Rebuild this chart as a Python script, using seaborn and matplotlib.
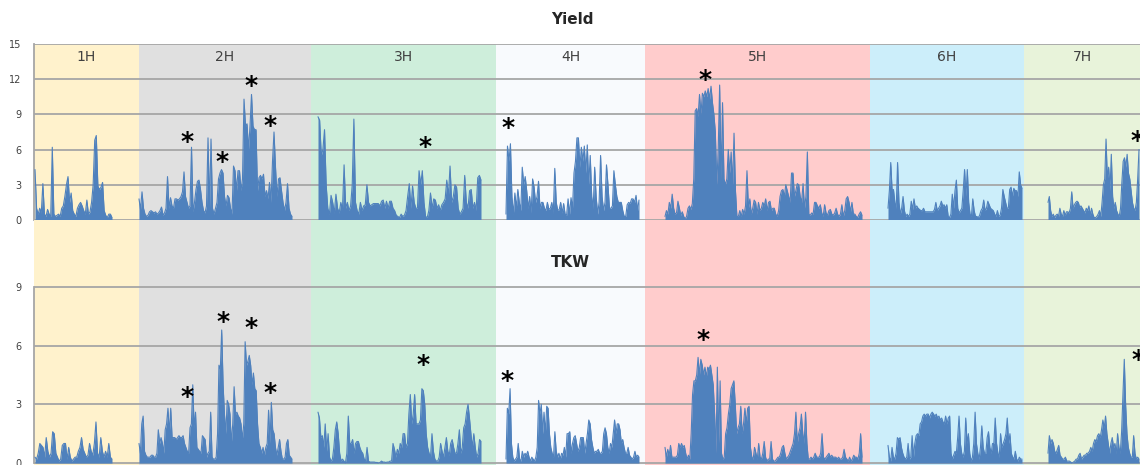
import numpy as np
import pandas as pd
import matplotlib
matplotlib.use("Agg")
import matplotlib.pyplot as plt
import seaborn as sns

# chromosomes, their band widths and the span covered by markers
chroms = ['1H', '2H', '3H', '4H', '5H', '6H', '7H']
chrom_width = [105, 172, 185, 149, 225, 154, 116]
marker_start = [1, 0, 7, 10, 20, 18, 24]
marker_end = [78, 153, 170, 143, 217, 152, 115]
band_colors = ['#fff2cc', '#e0e0e0', '#ceeedb', '#f8fafd', '#ffcccc', '#cceefa', '#e8f3da']

# -log10(p) profiles, Yield
yield_1h = [4.3, 1.0, 0.5, 1.0, 0.6, 3.1, 0.5, 0.3, 0.9, 0.5, 0.3, 6.2, 0.5, 0.3, 0.4, 0.5, 0.3,
            1.0, 1.2, 2.0, 3.0, 3.7, 1.5, 2.3, 0.8, 0.5, 0.3, 1.0, 1.3, 1.5, 1.2, 0.8, 0.5, 1.7,
            0.5, 0.7, 1.5, 3.0, 6.8, 7.2, 2.9, 2.6, 2.8, 3.2, 0.8, 0.4, 0.2, 0.5, 0.5, 0.2]
yield_2h = [1.8, 0.9, 2.4, 1.0, 0.5, 0.3, 0.4, 0.7, 0.8, 0.7, 0.6, 0.7, 0.5, 0.6, 0.8, 1.1, 0.4,
            0.6, 1.0, 3.7, 1.0, 1.9, 1.2, 1.0, 1.8, 1.8, 1.7, 1.8, 2.0, 2.4, 4.1, 2.0, 1.5, 1.0,
            1.2, 6.2, 0.7, 1.5, 2.6, 3.3, 3.4, 2.6, 1.5, 0.8, 0.6, 1.2, 7.0, 1.0, 6.9, 1.0, 0.5,
            1.0, 1.5, 3.5, 4.0,
            4.3, 4.0, 2.0, 1.2, 2.1, 1.9, 1.0, 0.5, 4.6, 4.2, 2.5, 4.2, 4.2, 2.5, 3.5, 10.3, 8.0,
            8.2, 6.0, 8.0, 10.7, 8.0, 7.7, 7.7, 2.5, 3.6, 3.8, 3.5, 3.9, 2.0, 2.5, 1.8, 3.2, 1.5,
            5.0, 7.5, 4.5, 2.0, 3.5, 3.6, 2.5, 1.5, 0.8, 1.5, 3.1, 1.0, 0.5, 0.3]
yield_3h = [8.8, 8.5, 5.5, 6.0, 7.7, 3.0, 1.0, 0.5, 2.1, 1.5, 0.6, 2.2, 1.0, 0.6, 1.5, 0.9, 4.7,
            1.0, 1.5, 0.8, 1.2, 3.0, 8.6, 1.5, 0.8, 0.5, 1.5, 0.8, 1.2, 1.3, 3.0, 1.5, 1.2, 1.3,
            1.4, 1.4, 1.4, 1.4, 1.2, 1.6, 1.7, 1.0, 1.6, 1.0, 1.6, 1.6, 1.0, 0.8, 0.4, 0.3, 0.2,
            0.5,
            0.3, 0.4, 0.8, 2.0, 3.1, 1.0, 2.9, 1.5, 1.0, 1.0, 4.2, 3.0, 4.2, 1.5, 0.3, 0.2, 0.8,
            2.3, 1.0, 1.8, 1.7, 1.0, 1.3, 0.8, 1.3, 1.5, 1.8, 3.4, 2.0, 4.6, 1.5, 2.0, 3.0, 2.8,
            1.0, 0.5, 0.7, 1.0, 3.8, 1.5, 1.0, 2.5, 2.6, 1.0, 1.5, 0.8, 3.6, 3.8, 3.4]
yield_4h = [0.5, 6.3, 5.0, 6.5, 2.0, 0.5, 2.3, 1.0, 2.6, 1.5, 0.8, 4.5, 3.0, 3.7, 2.5, 1.0, 2.0,
            0.6, 3.5, 2.8, 1.5, 2.0, 3.3, 1.0, 1.5, 1.5, 1.0, 0.8, 1.5, 0.9, 1.0, 1.5, 0.6, 4.4,
            1.5, 0.8, 0.9, 1.5, 0.6, 1.4, 0.5, 0.4, 1.8, 0.5, 1.9, 1.0, 4.0, 5.0, 7.0, 7.0, 4.5,
            6.2, 5.0, 6.3, 4.0, 6.4, 3.0, 5.5,
            2.0, 1.0, 4.5, 2.0, 0.5, 1.5, 5.5, 2.0, 0.8, 1.5, 4.7, 3.0, 1.0, 1.0, 1.2, 4.2, 3.0,
            2.0, 1.5, 1.5, 1.5, 0.8, 0.3, 0.3, 1.3, 1.5, 1.4, 1.8, 1.8, 1.5, 2.1, 0.8, 1.7]
yield_5h = [0.3, 0.8, 0.5, 1.5, 1.0, 2.2, 1.0, 0.5, 0.6, 1.6, 1.0, 0.4, 0.7, 0.3, 0.1, 0.3, 1.0,
            1.2, 0.9, 1.4, 3.5, 9.3, 9.5, 8.8, 10.7, 9.0, 10.8, 10.5, 11.0, 10.5, 11.2, 10.3,
            11.4, 10.0, 9.0, 7.5, 3.0, 6.0, 11.5, 3.5, 10.0, 3.5, 3.0, 3.5, 6.0, 4.0, 5.8, 3.0,
            7.4, 2.5, 0.3, 0.3, 0.8, 0.3, 0.9, 0.5, 1.2, 4.2, 1.0, 1.8, 0.5, 1.0, 1.7, 1.5, 0.5,
            1.5, 0.8, 1.0, 1.5, 1.2, 1.8, 0.8, 1.5, 1.6, 0.8, 1.0, 1.0,
            0.5, 0.3, 0.8, 2.0, 2.5, 2.6, 2.0, 3.0, 2.5, 2.0, 1.5, 4.0, 4.0, 2.0, 2.5, 3.1, 3.0,
            2.0, 1.5, 3.1, 1.0, 2.0, 5.8, 0.5, 0.4, 0.6, 0.5, 1.5, 1.5, 1.2, 1.0, 1.3, 0.6, 0.3,
            1.3, 0.6, 0.4, 0.8, 0.9, 0.5, 0.4, 0.6, 1.0, 0.5, 0.3, 0.5, 1.3, 0.3, 0.8, 1.8, 2.0,
            1.5, 0.7, 1.5, 0.5, 0.5, 0.3, 0.2, 0.5, 0.7, 0.4]
yield_6h = [1.0, 2.5, 4.9, 2.5, 2.6, 1.5, 1.0, 4.9, 1.5, 0.5, 1.0, 2.0, 0.8, 0.3, 0.5, 0.3, 0.5,
            1.6, 0.9, 1.8, 1.0, 1.2, 1.0, 0.9, 0.8, 0.8, 1.0, 0.7, 0.7, 0.7, 0.7, 0.7, 0.7, 0.7,
            0.9, 1.5, 0.8, 1.0, 1.2, 1.6, 1.2, 1.3, 1.0, 1.3, 0.3, 0.2, 0.5, 2.2, 1.0, 2.5, 3.4,
            1.0, 0.6, 0.8, 1.0, 2.5, 4.3, 2.0, 4.3, 1.5, 0.5, 0.3, 1.8, 0.8, 0.3, 0.3, 0.2, 0.4,
            0.8, 1.0, 1.7, 0.8, 1.0, 1.6, 1.3, 1.0, 0.9, 0.8, 0.5, 0.3, 0.8, 0.3, 0.4, 1.0, 2.6,
            2.0, 1.5, 1.0, 1.0, 2.6, 2.8, 2.0, 2.7, 2.5, 2.5, 2.0, 4.1, 3.0, 2.7]
yield_7h = [1.5, 2.0, 0.8, 0.3, 0.5, 0.2, 0.4, 0.5, 0.3, 1.0, 0.5, 0.3, 0.8, 0.4, 0.7, 0.7, 0.6,
            1.0, 2.4, 1.0, 1.3, 1.5, 1.6, 1.5, 1.1, 1.2, 1.0, 0.8, 0.6, 1.0, 0.8, 1.2, 0.4, 1.0,
            0.5, 0.2, 0.2, 0.3, 0.5, 0.8, 0.3, 1.5, 3.0, 3.5, 6.9, 3.5, 4.5, 2.5, 5.6, 2.0, 1.0,
            1.5, 0.8, 0.5, 0.3, 1.0, 3.2, 5.0, 5.3, 4.5, 5.6, 4.0, 3.5, 2.5, 1.5, 1.0, 0.8, 1.5,
            3.5, 6.0]

# -log10(p) profiles, TKW
tkw_1h = [0.3, 0.2, 0.5, 1.0, 0.9, 0.8, 0.3, 1.3, 0.6, 0.3, 0.5, 1.6, 1.5, 0.5, 0.3, 0.1, 0.2,
          0.9, 1.0, 1.0, 0.2, 0.8, 0.3, 0.1, 0.2, 0.3, 0.3, 0.6, 0.8, 1.3, 0.7, 0.5, 0.3, 0.4,
          1.0, 0.6, 0.4, 1.0, 2.1, 0.5, 0.3, 1.3, 0.6, 0.3, 0.6, 0.3, 1.0, 0.3, 0.2]
tkw_2h = [1.0, 0.5, 2.0, 2.4, 0.6, 0.4, 0.3, 0.3, 0.3, 0.4, 0.4, 0.3, 0.3, 0.5, 1.7, 1.0, 1.3,
          1.0, 0.5, 1.7, 2.0, 2.8, 1.5, 2.8, 1.3, 1.3, 1.3, 1.2, 1.3, 1.4, 1.3, 1.3, 1.4, 1.0,
          0.8, 0.6, 0.5, 1.8, 2.0, 4.0, 1.8, 2.6, 0.8, 0.7, 0.6, 0.5, 1.4, 1.3, 1.2, 0.3, 0.5,
          0.6, 2.6, 0.3, 0.2, 0.2, 0.3, 1.5, 5.0, 4.8, 6.8, 4.0, 2.5, 1.5, 3.2, 3.0, 2.5, 1.0,
          2.0, 3.9, 2.5, 2.6, 2.4, 2.3, 2.0, 1.2, 2.0, 6.2, 5.0, 5.2, 5.5, 5.0, 4.0, 4.6, 3.8,
          3.7, 2.0, 1.0, 0.8, 0.5, 0.8, 0.4, 0.8, 1.0, 2.7, 1.0, 3.1, 1.7, 1.5, 0.8, 0.4, 0.8,
          1.2, 0.6, 0.2, 0.2, 0.3, 1.0, 1.2, 0.4, 0.3, 0.2]
tkw_3h = [2.6, 2.3, 1.3, 1.4, 0.8, 2.0, 0.6, 1.5, 0.3, 0.1, 0.2, 0.8, 1.7, 2.1, 1.5, 0.5, 0.1,
          0.2, 0.1, 0.0, 0.5, 2.4, 1.0, 1.0, 1.2, 0.5, 1.0, 1.1, 1.1, 0.8, 0.6, 0.5, 0.2, 0.1,
          0.8, 0.1, 0.05, 0.05, 0.05, 0.05, 0.03, 0.03, 0.0, 0.03, 0.1, 0.05, 0.05, 0.03, 0.05,
          0.05, 0.1, 0.1, 1.0, 0.7, 0.3, 0.7, 0.5, 1.0, 0.8, 1.5, 1.5, 0.8, 1.0, 2.5, 3.5, 2.0,
          2.5, 3.5, 2.0, 2.0, 2.0, 2.2, 3.8, 3.7, 3.0, 1.5, 0.8, 0.5, 0.3, 1.5, 0.6, 0.2, 0.1,
          0.1, 0.3, 1.0, 0.6, 0.3, 0.8, 1.3, 0.6, 0.4, 1.0, 1.2, 0.8, 0.5, 0.5, 1.0, 1.7, 0.5,
          0.8, 1.8, 2.0, 2.6, 3.0, 2.3, 1.5, 0.8, 1.5, 0.8, 0.3, 0.5, 1.2, 1.1]
tkw_4h = [0.2, 2.8, 2.5, 3.8, 1.0, 0.3, 0.1, 0.2, 0.3, 1.0, 0.2, 0.1, 0.6, 0.3, 0.5, 0.4, 0.6,
          0.3, 0.1, 0.3, 0.2, 0.1, 0.3, 0.8, 3.2, 2.5, 3.0, 1.5, 2.6, 1.5, 2.9, 2.8, 1.5, 0.8,
          0.5, 0.3, 1.6, 0.6, 0.3, 0.5, 0.2, 0.5, 0.4, 0.8, 0.3, 1.5, 1.5, 1.6, 0.5, 1.0, 1.3,
          1.4, 1.0, 0.6, 0.8, 1.3, 1.3, 1.3, 0.5, 1.0, 1.5, 2.2, 2.0, 1.2, 0.8, 0.5, 0.6, 0.6,
          0.7, 0.5, 0.5, 0.6, 1.5, 1.8, 1.5, 0.8, 0.5, 1.0, 0.8, 1.5, 2.2, 1.5, 2.0, 2.0, 1.7,
          1.0, 1.2, 0.8, 0.5, 0.5, 0.8, 0.4, 0.3, 0.2, 0.3, 0.6, 0.3, 0.4, 0.3]
tkw_5h = [0.8, 0.3, 0.7, 0.4, 0.9, 0.3, 0.3, 0.3, 0.3, 0.4, 1.0, 0.8, 1.0, 0.8, 0.9, 0.5, 0.2,
          0.4, 0.2, 1.5, 3.5, 4.2, 4.2, 4.5, 5.4, 4.5, 5.3, 5.0, 4.5, 4.9, 4.4, 4.9, 4.8, 5.0,
          4.5, 4.0, 2.5, 0.5, 4.9, 1.0, 4.2, 0.5, 0.2, 0.3, 1.5, 1.8, 2.5, 3.0, 3.8, 4.0, 4.2,
          3.0, 1.5, 1.8, 2.0, 2.9, 1.5, 2.0, 2.8, 2.0, 2.8, 2.9, 0.8, 0.3, 0.2, 0.8, 0.5, 0.2,
          1.0, 0.3, 0.2, 0.5, 1.1, 0.3, 0.1, 0.2, 0.2, 1.1, 0.2, 0.1, 0.1, 0.2, 0.3, 0.3, 0.5,
          0.8, 0.9, 0.5, 0.2, 0.3, 0.4, 0.6, 0.8, 1.0, 1.5, 2.6, 1.0, 1.5, 1.8, 2.5, 1.5, 1.0,
          2.6, 1.0, 0.2, 0.2, 0.3, 0.2, 0.3, 0.5, 0.3, 0.3, 0.3, 0.5, 1.5, 0.3, 0.2, 0.3, 0.4,
          0.5, 0.3, 0.4, 0.3, 0.3, 0.3, 0.2, 0.3, 0.2, 0.2, 0.3, 0.7, 0.3, 0.2, 0.1, 0.3, 0.1,
          0.2, 0.4, 0.3, 0.3, 0.2, 0.5, 1.5, 0.3]
tkw_6h = [0.9, 0.3, 0.1, 0.8, 0.3, 0.2, 0.5, 1.3, 1.2, 1.3, 0.8, 0.5, 0.3, 0.2, 0.3, 1.0, 0.2,
          0.3, 1.4, 0.3, 1.0, 1.4, 1.5, 1.4, 2.0, 2.1, 2.4, 2.5, 2.4, 2.5, 2.5, 2.3, 2.5, 2.6,
          2.5, 2.4, 2.5, 2.3, 2.4, 2.2, 2.3, 2.1, 2.0, 2.4, 2.0, 2.3, 2.4, 0.5, 0.2, 0.4, 0.6,
          0.5, 1.3, 2.4, 1.0, 0.5, 0.3, 0.6, 2.3, 1.0, 1.5, 0.5, 0.1, 0.3, 1.0, 2.6, 1.0, 0.5,
          0.2, 0.8, 1.9, 0.8, 0.5, 0.5, 1.3, 1.6, 0.8, 0.5, 1.0, 1.0, 2.3, 1.0, 0.5, 0.3, 1.5,
          0.8, 1.0, 1.2, 1.5, 2.3, 1.0, 1.5, 0.5, 0.3, 0.2, 0.6, 0.2, 0.1, 0.3, 0.2, 0.2]
tkw_7h = [0.5, 1.4, 1.0, 1.2, 1.0, 0.6, 0.5, 0.7, 0.9, 0.4, 0.3, 0.2, 0.2, 0.3, 0.1, 0.1, 0.1,
          0.05, 0.0, 0.05, 0.1, 0.2, 0.2, 0.4, 0.5, 0.2, 0.3, 0.4, 0.4, 0.5, 0.5, 0.6, 0.8, 0.6,
          1.0, 1.2, 1.1, 1.4, 1.5, 1.3, 1.7, 2.2, 1.8, 2.4, 1.5, 1.0, 0.5, 1.0, 1.3, 0.8, 1.0,
          0.5, 1.5, 0.8, 0.5, 1.6, 3.5, 5.3, 3.0, 1.5, 0.8, 0.5, 0.3, 0.3, 1.4, 0.5, 0.2, 0.3,
          0.2]

# significant QTL marks (chromosome, position within band, height of the mark)
yield_qtl_chrom = ['2H', '2H', '2H', '2H', '3H', '4H', '5H', '7H']
yield_qtl_pos = [48, 83, 112, 131, 114, 12, 60, 113]
yield_qtl_y = [7.0, 5.3, 11.8, 8.4, 6.6, 8.2, 12.3, 7.1]
tkw_qtl_chrom = ['2H', '2H', '2H', '2H', '3H', '4H', '5H', '7H']
tkw_qtl_pos = [48, 84, 112, 131, 112, 11, 58, 114]
tkw_qtl_y = [3.6, 7.4, 7.1, 3.8, 5.2, 4.4, 6.5, 5.5]

BLUE = '#4f81bd'
GRID = '#a6a6a6'

sns.set_style('white')
plt.rcParams['font.family'] = ['DejaVu Sans']

band_start = np.concatenate([[0], np.cumsum(chrom_width)[:-1]])
x_max = sum(chrom_width)


def build_frame(series):
    parts = []
    for name, start, a, b, vals in zip(chroms, band_start, marker_start, marker_end, series):
        pos = start + np.linspace(a, b, len(vals))
        parts.append(pd.DataFrame({'chrom': name, 'pos': pos, 'lod': vals}))
    return pd.concat(parts, ignore_index=True)


def draw_panel(ax, df, ticks, spine_top, q_chrom, q_pos, q_y):
    for start, w, col in zip(band_start, chrom_width, band_colors):
        ax.axvspan(start, start + w, color=col, lw=0, zorder=0)
    ax.set_axisbelow(True)
    ax.set_yticks(ticks)
    ax.yaxis.grid(True, color=GRID, lw=1.3)
    for name, g in df.groupby('chrom'):
        ax.fill_between(g['pos'], 0, g['lod'], color=BLUE, lw=0, zorder=2)
    sns.lineplot(data=df, x='pos', y='lod', units='chrom', estimator=None, sort=False,
                 color=BLUE, lw=0.8, ax=ax, legend=False, zorder=3)
    # the asterisk glyph sits high in its box, so nudge it down a little
    for c, p, y in zip(q_chrom, q_pos, q_y):
        x = band_start[chroms.index(c)] + p
        ax.annotate('*', (x, y), xytext=(0, -3), textcoords='offset points',
                    ha='center', va='center', fontsize=18, fontweight='bold',
                    color='black', zorder=4)
    ax.set_xlim(0, x_max)
    ax.set_xlabel('')
    ax.set_ylabel('')
    ax.set_xticks([])
    for s in ['top', 'right', 'bottom']:
        ax.spines[s].set_visible(False)
    ax.spines['left'].set_color(GRID)
    ax.spines['left'].set_linewidth(1.3)
    ax.spines['left'].set_bounds(0, spine_top)
    ax.tick_params(axis='y', length=0, pad=9, labelsize=7, labelcolor='#404040')


yield_df = build_frame([yield_1h, yield_2h, yield_3h, yield_4h, yield_5h, yield_6h, yield_7h])
tkw_df = build_frame([tkw_1h, tkw_2h, tkw_3h, tkw_4h, tkw_5h, tkw_6h, tkw_7h])

W, H = 1140, 465
fig = plt.figure(figsize=(W / 100, H / 100), dpi=100)
left = 34 / W
ax1 = fig.add_axes([left, 1 - 220 / H, 1 - left, 176 / H])
ax2 = fig.add_axes([left, 0, 1 - left, 245 / H])

draw_panel(ax1, yield_df, [0, 3, 6, 9, 12, 15], 15,
           yield_qtl_chrom, yield_qtl_pos, yield_qtl_y)
ax1.set_ylim(0, 15)
for name, start, w in zip(chroms, band_start, chrom_width):
    ax1.text(start + w / 2, 13.9, name, ha='center', va='center', fontsize=10, color='#404040')

draw_panel(ax2, tkw_df, [0, 3, 6, 9], 9, tkw_qtl_chrom, tkw_qtl_pos, tkw_qtl_y)
ax2.set_ylim(-0.1, 12.42)

fig.text(572 / W, 1 - 19 / H, 'Yield', ha='center', va='center', fontsize=11, fontweight='bold')
fig.text(570 / W, 1 - 262 / H, 'TKW', ha='center', va='center', fontsize=11, fontweight='bold')

fig.savefig('out.png', dpi=100)
